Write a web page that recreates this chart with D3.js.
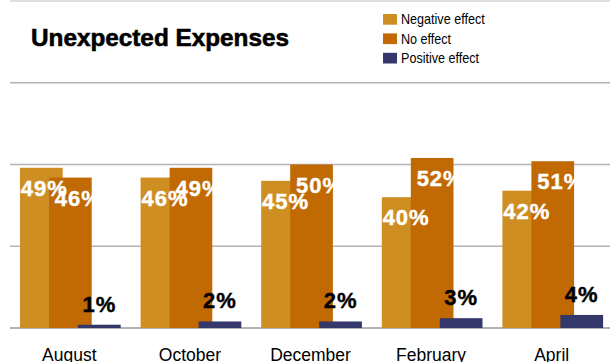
<!DOCTYPE html>
<html>
<head>
<meta charset="utf-8">
<script src="https://cdn.jsdelivr.net/npm/d3@7"></script>
<style>
  html, body { margin: 0; padding: 0; background: #fff; }
  svg { display: block; font-family: "Liberation Sans", Arial, sans-serif; }
</style>
</head>
<body>
<svg id="chart" width="610" height="362"></svg>
<script>
// Survey months and answer categories
const months = ["August", "October", "December", "February", "April"];
const seriesNames = ["Negative effect", "No effect", "Positive effect"];
const negativeEffect = [49, 46, 45, 40, 42];
const noEffect = [46, 49, 50, 52, 51];
const positiveEffect = [1, 2, 2, 3, 4];
const yTicks = [0, 25, 50, 75, 100];
const seriesColors = ["#CF8E22", "#C16A03", "#34376A"];

const seriesValues = [negativeEffect, noEffect, positiveEffect];

const svg = d3.select("#chart");
const W = 610, H = 362;

const x = d3.scaleBand().domain(months).range([10, 613]).paddingInner(0).paddingOuter(0);
const y = d3.scaleLinear().domain([0, 100]).range([328, 1]);

// Overlapping bars inside each month group
const barOffset = d3.scalePoint().domain(seriesNames).range([10, 68]);
const barWidth = 42.7;

// Horizontal gridlines
svg.append("g")
  .selectAll("line")
  .data(yTicks)
  .join("line")
  .attr("x1", 10).attr("x2", W)
  .attr("y1", d => y(d)).attr("y2", d => y(d))
  .attr("stroke", d => d === 0 ? "#9a9a9a" : (d === 100 ? "#d4d4d4" : "#b4b4b4"))
  .attr("stroke-width", 1.5);

// Bars
const groups = svg.append("g")
  .selectAll("g")
  .data(seriesNames.map((name, i) => ({ name, i, values: seriesValues[i] })))
  .join("g")
  .attr("fill", d => seriesColors[d.i]);

groups.selectAll("rect")
  .data(d => d.values.map((v, k) => ({ name: d.name, i: d.i, v, month: months[k] })))
  .join("rect")
  .attr("x", d => x(d.month) + barOffset(d.name))
  .attr("y", d => y(d.v))
  .attr("width", barWidth)
  .attr("height", d => y(0) - y(d.v));

// Value labels: white inside the tall bars, black above the small ones
const labelShift = [3, 8, 0];
const labels = [];
seriesNames.forEach((name, i) => {
  seriesValues[i].forEach((v, k) => labels.push({ name, i, v, month: months[k] }));
});

svg.append("g")
  .selectAll("text")
  .data(labels)
  .join("text")
  .attr("x", d => x(d.month) + barOffset(d.name) + barWidth / 2 + labelShift[d.i])
  .attr("y", d => d.i === 2 ? y(d.v) - 13 : y(d.v) + 28)
  .attr("text-anchor", "middle")
  .attr("font-size", 22)
  .attr("font-weight", "bold")
  .attr("letter-spacing", 1)
  .attr("fill", d => d.i === 2 ? "#000" : "#fff")
  .attr("stroke", d => d.i === 2 ? "#000" : "#fff")
  .attr("stroke-width", 0.4)
  .text(d => d.v + "%");

// Month labels
svg.append("g")
  .selectAll("text")
  .data(months)
  .join("text")
  .attr("x", d => x(d) + x.bandwidth() / 2 - 1)
  .attr("y", 361)
  .attr("text-anchor", "middle")
  .attr("font-size", 17.5)
  .attr("fill", "#000")
  .text(d => d);

// Title
svg.append("text")
  .attr("x", 31)
  .attr("y", 46)
  .attr("font-size", 24.3)
  .attr("font-weight", "bold")
  .attr("fill", "#000")
  .attr("stroke", "#000")
  .attr("stroke-width", 0.6)
  .text("Unexpected Expenses");

// Legend
const legend = svg.append("g")
  .selectAll("g")
  .data(seriesNames)
  .join("g")
  .attr("transform", (d, i) => `translate(383, ${14 + i * 19.4})`);

legend.append("rect")
  .attr("width", 14)
  .attr("height", 10.7)
  .attr("fill", (d, i) => seriesColors[i]);

legend.append("text")
  .attr("transform", "translate(18, 10.2) scale(0.9, 1)")
  .attr("font-size", 14)
  .attr("fill", "#000")
  .text(d => d);
</script>
</body>
</html>
